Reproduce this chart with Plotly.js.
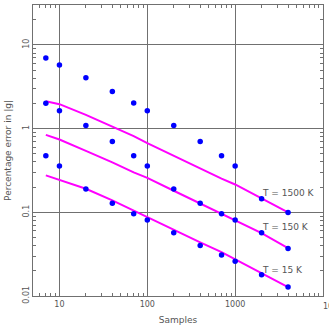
<!DOCTYPE html>
<html>
<head>
<meta charset="utf-8">
<script src="https://cdn.plot.ly/plotly-3.0.1.min.js"></script>
<style>
  html, body { margin: 0; padding: 0; background: #fff; }
  #fig { width: 329px; height: 326px; }
</style>
</head>
<body>
<div id="fig"></div>
<script>
// sample sizes used for every run
const samples = [7, 10, 20, 40, 70, 100, 200, 400, 700, 1000, 2000, 4000];

// measured percentage error (three rows of points)
const errHigh = [7.0, 5.77, 4.04, 2.77, 2.03, 1.64, 1.09, 0.70, 0.473, 0.358, 0.145, 0.0998];
const errMid  = [2.01, 1.64, 1.09, 0.70, 0.473, 0.358, 0.190, 0.128, 0.096, 0.081, 0.057, 0.037];
const errLow  = [0.473, 0.358, 0.190, 0.128, 0.096, 0.081, 0.057, 0.040, 0.031, 0.026, 0.018, 0.0128];

// fitted curves, one per temperature
const fit1500 = [2.12, 1.96, 1.46, 1.06, 0.815, 0.67, 0.472, 0.335, 0.253, 0.215, 0.147, 0.0998];
const fit150  = [0.843, 0.741, 0.541, 0.396, 0.30, 0.258, 0.181, 0.128, 0.096, 0.081, 0.0565, 0.0374];
const fit15   = [0.276, 0.245, 0.191, 0.139, 0.105, 0.088, 0.061, 0.0438, 0.0334, 0.0274, 0.0189, 0.0128];

// curve labels
const labelText = ["T = 1500 K", "T = 150 K", "T = 15 K"];
const labelX = [1900, 1900, 1900];
const labelY = [0.171, 0.0667, 0.0207];

const xTicks = [10, 100, 1000];
const yTicks = [0.01, 0.1, 1, 10];
const yTickText = ["0.01", "0.1", "1", "10"];

const fontFam = "DejaVu Sans, sans-serif";
const txtCol = "#555";
const gridCol = "#707070";

let series = [];
[fit1500, fit150, fit15].forEach(function (f, i) {
  series.push({x: samples, y: f, type: 'scatter', mode: 'lines',
               line: {color: '#ff00ff', width: 2}, name: labelText[i]});
});
[errHigh, errMid, errLow].forEach(function (e) {
  series.push({x: samples, y: e, type: 'scatter', mode: 'markers',
               marker: {color: '#0000ff', size: 5.5}, cliponaxis: false});
});

let annotations = [];
for (let i = 0; i < labelText.length; i++) {
  annotations.push({text: labelText[i], x: Math.log10(labelX[i]), y: Math.log10(labelY[i]),
                    xref: 'x', yref: 'y', xanchor: 'left', yanchor: 'middle',
                    showarrow: false, font: {family: fontFam, size: 9, color: txtCol}});
}
// the right-hand tick label runs off the page, as in the original
annotations.push({text: "10000", x: 4, y: 0, xref: 'x', yref: 'paper',
                  xanchor: 'left', yanchor: 'top', xshift: -2, yshift: -4, showarrow: false,
                  font: {family: fontFam, size: 8, color: txtCol}});

const axisCommon = {
  type: 'log', showline: true, linecolor: gridCol, linewidth: 1, mirror: 'ticks',
  ticks: 'inside', ticklen: 5, tickcolor: gridCol, tickwidth: 1,
  showgrid: true, gridcolor: gridCol, gridwidth: 1, zeroline: false,
  tickfont: {family: fontFam, size: 8, color: txtCol},
  minor: {ticks: 'inside', ticklen: 3, tickcolor: gridCol, showgrid: false, dtick: 'D1'}
};

let layout = {
  width: 329, height: 326,
  margin: {l: 33, r: 6, t: 5, b: 30},
  paper_bgcolor: '#fff', plot_bgcolor: '#fff',
  showlegend: false,
  xaxis: Object.assign({}, axisCommon, {
    range: [Math.log10(5), 4], tickmode: 'array', tickvals: xTicks,
    ticktext: xTicks.map(String),
    title: {text: 'Samples', font: {family: fontFam, size: 9, color: txtCol}, standoff: 9}
  }),
  yaxis: Object.assign({}, axisCommon, {
    range: [-2, Math.log10(30)], tickmode: 'array', tickvals: yTicks,
    ticktext: yTickText, tickangle: -90,
    title: {text: 'Percentage error in |g|', font: {family: fontFam, size: 9, color: txtCol}, standoff: 8}
  }),
  annotations: annotations
};

Plotly.newPlot('fig', series, layout, {staticPlot: true});
</script>
</body>
</html>
